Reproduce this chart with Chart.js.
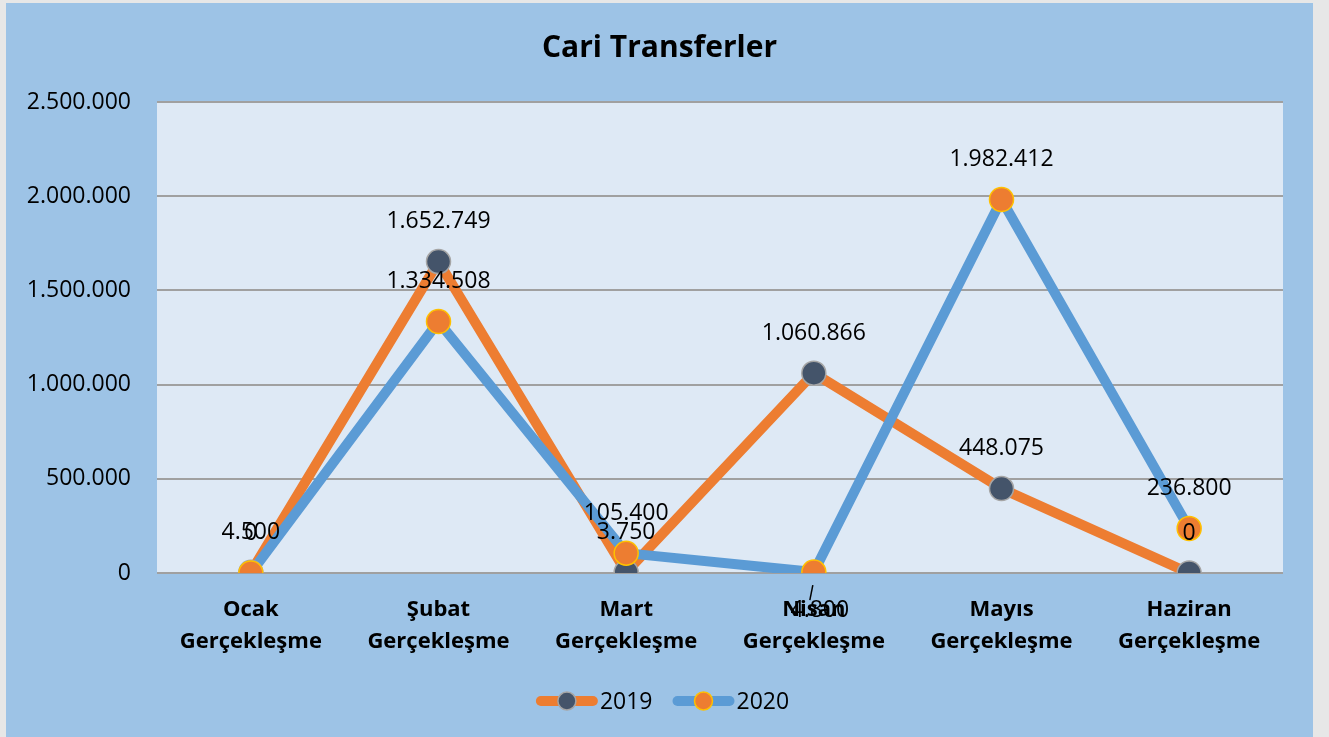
<!DOCTYPE html>
<html>
<head>
<meta charset="utf-8">
<script src="https://cdn.jsdelivr.net/npm/chart.js@4.4.1/dist/chart.umd.min.js"></script>
<style>
  html, body { margin: 0; padding: 0; background: #e7e7e7; }
  #box { position: absolute; left: 6px; top: 3px; width: 1307px; height: 734px; background: #9dc3e6; }
</style>
</head>
<body>
<div id="box"><canvas id="chart"></canvas></div>
<script>
const categories = [
  ['Ocak', 'Gerçekleşme'],
  ['Şubat', 'Gerçekleşme'],
  ['Mart', 'Gerçekleşme'],
  ['Nisan', 'Gerçekleşme'],
  ['Mayıs', 'Gerçekleşme'],
  ['Haziran', 'Gerçekleşme']
];
const values2019 = [4500, 1652749, 3750, 1060866, 448075, 0];
const values2020 = [0, 1334508, 105400, 4800, 1982412, 236800];
const seriesNames = ['2019', '2020'];

const FONT = '"Open Sans", sans-serif';

// 1.234.567 style
function fmt(v) {
  return String(Math.round(v)).replace(/\B(?=(\d{3})+(?!\d))/g, '.');
}

// light plot area
const plotBg = {
  id: 'plotBg',
  beforeDraw(chart) {
    const { ctx, chartArea: a } = chart;
    ctx.save();
    ctx.fillStyle = '#dee9f5';
    ctx.fillRect(a.left, a.top, a.right - a.left, a.bottom - a.top);
    ctx.restore();
  }
};

// value labels above the markers
const valueLabels = {
  id: 'valueLabels',
  afterDatasetsDraw(chart) {
    const ctx = chart.ctx;
    ctx.save();
    ctx.font = '23px ' + FONT;
    ctx.fillStyle = '#000';
    ctx.textAlign = 'center';
    ctx.textBaseline = 'middle';
    [2, 3].forEach(di => {
      const meta = chart.getDatasetMeta(di);
      const data = chart.data.datasets[di].data;
      meta.data.forEach((pt, i) => {
        const below = di === 3 && i === 3; // Nisan 2020 label was pushed below
        if (below) {
          ctx.strokeStyle = '#000';
          ctx.lineWidth = 1.5;
          ctx.beginPath();
          ctx.moveTo(pt.x - 1, pt.y + 13);
          ctx.lineTo(pt.x - 4, pt.y + 28);
          ctx.stroke();
          ctx.fillText(fmt(data[i]), pt.x + 6, pt.y + 38);
        } else {
          ctx.fillText(fmt(data[i]), pt.x, pt.y - 40);
        }
      });
    });
    ctx.restore();
  }
};

// legend: line with marker, like the spreadsheet one
const lineLegend = {
  id: 'lineLegend',
  afterDraw(chart) {
    const ctx = chart.ctx;
    const y = 698;
    const lineW = 62;
    ctx.save();
    ctx.font = '23px ' + FONT;
    ctx.textBaseline = 'middle';
    const items = [
      { text: seriesNames[0], line: '#ed7d31', fill: '#44546a', border: '#a5a5a5' },
      { text: seriesNames[1], line: '#5b9bd5', fill: '#ed7d31', border: '#ffc000' }
    ];
    const gap = 20;
    let total = 0;
    items.forEach(it => { it.w = lineW + 2 + ctx.measureText(it.text).width; total += it.w; });
    total += gap;
    let x = chart.width / 2 - total / 2 + 3;
    items.forEach(it => {
      ctx.strokeStyle = it.line;
      ctx.lineWidth = 10;
      ctx.lineCap = 'round';
      ctx.beginPath();
      ctx.moveTo(x + 5, y);
      ctx.lineTo(x + lineW - 5, y);
      ctx.stroke();
      ctx.fillStyle = it.fill;
      ctx.strokeStyle = it.border;
      ctx.lineWidth = 1.5;
      ctx.beginPath();
      ctx.arc(x + lineW / 2, y, 9, 0, Math.PI * 2);
      ctx.fill();
      ctx.stroke();
      ctx.fillStyle = '#000';
      ctx.textAlign = 'left';
      ctx.fillText(it.text, x + lineW + 2, y + 1);
      x += it.w + gap;
    });
    ctx.restore();
  }
};

new Chart(document.getElementById('chart'), {
  type: 'line',
  data: {
    labels: categories,
    datasets: [
      { label: seriesNames[0], data: values2019, borderColor: '#ed7d31', borderWidth: 10,
        pointRadius: 0, order: 4, borderCapStyle: 'round', borderJoinStyle: 'round' },
      { label: seriesNames[1], data: values2020, borderColor: '#5b9bd5', borderWidth: 10,
        pointRadius: 0, order: 3, borderCapStyle: 'round', borderJoinStyle: 'round' },
      { label: seriesNames[0], data: values2019, showLine: false, pointRadius: 12,
        pointBackgroundColor: '#44546a', pointBorderColor: '#a5a5a5', pointBorderWidth: 1.5, order: 2 },
      { label: seriesNames[1], data: values2020, showLine: false, pointRadius: 12,
        pointBackgroundColor: '#ed7d31', pointBorderColor: '#ffc000', pointBorderWidth: 1.5, order: 1 }
    ]
  },
  options: {
    responsive: true,
    maintainAspectRatio: false,
    animation: false,
    layout: { padding: 0 },
    plugins: {
      legend: { display: false },
      tooltip: { enabled: false },
      title: {
        display: true,
        text: 'Cari Transferler',
        color: '#000',
        font: { family: FONT, size: 30, weight: 'bold', lineHeight: 1.2 },
        padding: { top: 27, bottom: 36 }
      }
    },
    scales: {
      x: {
        offset: true,
        grid: { display: false, drawTicks: false },
        border: { display: false },
        ticks: {
          color: '#000',
          font: { family: FONT, size: 22, weight: 'bold', lineHeight: 1.45 },
          padding: 21,
          maxRotation: 0,
          autoSkip: false
        },
        afterFit(scale) { scale.height = 164; }
      },
      y: {
        min: 0,
        max: 2500000,
        grid: { color: '#a0a0a0', lineWidth: 2, drawTicks: false },
        border: { display: false },
        ticks: {
          stepSize: 500000,
          color: '#000',
          font: { family: FONT, size: 23 },
          padding: 26,
          callback: v => fmt(v)
        },
        afterFit(scale) { scale.width = 151; }
      },
      // empty right-hand strip so the plot stops short of the edge
      yRight: {
        position: 'right',
        min: 0,
        max: 2500000,
        grid: { display: false, drawTicks: false },
        border: { display: false },
        ticks: { display: false },
        afterFit(scale) { scale.width = 30; }
      }
    }
  },
  plugins: [plotBg, valueLabels, lineLegend]
});
</script>
</body>
</html>
